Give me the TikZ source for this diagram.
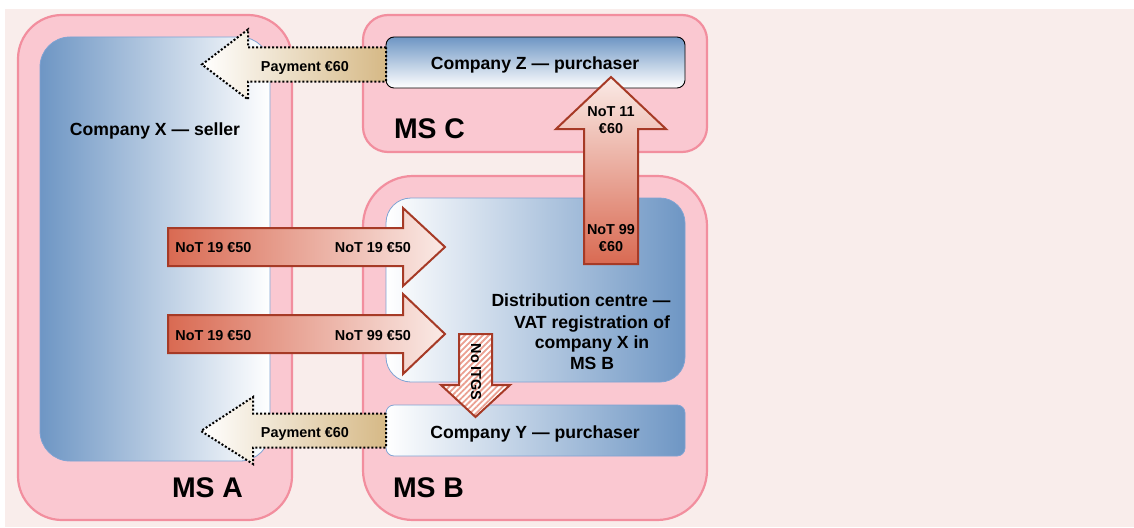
\documentclass[tikz,border=0pt]{standalone}
\usepackage{fontspec}
\setmainfont{Liberation Sans}
\usetikzlibrary{patterns.meta}
\definecolor{bgpink}{HTML}{F9EDEB}
\definecolor{mspink}{HTML}{FAC8D1}
\definecolor{msborder}{HTML}{F28E9E}
\definecolor{boxblue}{HTML}{6E96C4}
\definecolor{boxborder}{HTML}{7FA3D3}
\definecolor{arrred}{HTML}{D96A52}
\definecolor{arrlight}{HTML}{FAEAE6}
\definecolor{arrborder}{HTML}{A63A26}
\definecolor{paytan}{HTML}{D6B986}
\definecolor{hatchred}{HTML}{EBA091}
\begin{document}
\begin{tikzpicture}[x=1pt,y=-1pt,
  ms/.style={draw=msborder, fill=mspink, line width=2.2pt},
  inbox/.style={draw=boxborder, line width=0.8pt},
  notarrow/.style={draw=arrborder, line width=2pt, line join=miter},
  payarrow/.style={draw=black, line width=2pt, dash pattern=on 2pt off 2pt, left color=white, right color=paytan},
  lbl/.style={font=\bfseries\fontsize{14.4}{17.5}\selectfont, inner sep=0pt},
  big/.style={font=\bfseries\fontsize{17.6}{21}\selectfont, inner sep=0pt},
  huge/.style={font=\bfseries\fontsize{28.4}{32}\selectfont, inner sep=0pt},
]
\useasboundingbox (0,0) rectangle (1134,527);
\fill[white] (0,0) rectangle (1134,527);
\fill[bgpink] (5,9) rectangle (1134,527);

% member-state boxes
\path[ms, rounded corners=44pt] (18,15) rectangle (292,520);
\path[ms, rounded corners=25pt] (363,15) rectangle (707,152);
\path[ms, rounded corners=50pt] (363,176) rectangle (707,520);

% company boxes
\path[inbox, rounded corners=30pt, left color=boxblue, right color=white] (40,37) rectangle (270,461);
\path[draw=black, line width=0.9pt, rounded corners=8pt, top color=boxblue, bottom color=white] (386,37) rectangle (685,88);
\path[inbox, rounded corners=25pt, left color=white, right color=boxblue] (386,198) rectangle (685,382);
\path[inbox, rounded corners=8pt, left color=white, right color=boxblue] (386,405) rectangle (685,456);

% box labels
\node[big, anchor=base] (cx) at (155,135) {Company X — seller};
\node[big, anchor=base] (cz) at (535,70) {Company Z — purchaser};
\node[big, anchor=base] (cy) at (535,438) {Company Y — purchaser};
\node[big, anchor=base] (d1) at (581,306.5) {Distribution centre —};
\node[big, anchor=base] (d2) at (592,328) {VAT registration of};
\node[big, anchor=base] (d3) at (592,348.5) {company X in};
\node[big, anchor=base] (d4) at (592,369.5) {MS B};
\node[huge, anchor=base] (msa) at (207.5,497) {MS A};
\node[huge, anchor=base] (msc) at (429.5,138) {MS C};
\node[huge, anchor=base] (msb) at (428.5,497) {MS B};

% payment arrows
\path[payarrow] (386,47.5) -- (248,47.5) -- (248,29.5) -- (202,64.5) -- (248,99.5) -- (248,81.5) -- (386,81.5) -- cycle;
\path[payarrow] (386,413.5) -- (253,413.5) -- (253,397) -- (201,431) -- (253,464) -- (253,447.5) -- (386,447.5) -- cycle;
\node[lbl, anchor=base] (p1) at (305,71.5) {Payment €60};
\node[lbl, anchor=base] (p2) at (305,437) {Payment €60};

% NoT arrows
\path[notarrow, left color=arrred, right color=arrlight] (168,228) -- (403,228) -- (403,208) -- (445,247) -- (403,286) -- (403,266) -- (168,266) -- cycle;
\path[notarrow, left color=arrred, right color=arrlight] (168,315) -- (403,315) -- (403,294) -- (445,334) -- (403,374) -- (403,353) -- (168,353) -- cycle;
\node[lbl, anchor=base] (a1) at (213.5,252.5) {NoT 19 €50};
\node[lbl, anchor=base] (b1) at (373,252.5) {NoT 19 €50};
\node[lbl, anchor=base] (a2) at (213.5,340.5) {NoT 19 €50};
\node[lbl, anchor=base] (b2) at (373,340.5) {NoT 99 €50};

\path[notarrow, bottom color=arrred, top color=arrlight] (584,264) -- (584,129) -- (556,129) -- (611,77) -- (666,129) -- (638,129) -- (638,264) -- cycle;
\node[lbl, anchor=base] (t1) at (611,116) {NoT 11};
\node[lbl, anchor=base] (t2) at (611,133.5) {€60};
\node[lbl, anchor=base] (u1) at (611,234) {NoT 99};
\node[lbl, anchor=base] (u2) at (611,251.5) {€60};

% No ITGS arrow
\path[notarrow, preaction={fill=white}, pattern={Lines[angle=45,distance=4.2pt,line width=1.8pt]}, pattern color=hatchred] (459,334) -- (492,334) -- (492,385) -- (510,385) -- (475.5,417) -- (441,385) -- (459,385) -- cycle;
\node[lbl, rotate=-90] (itgs) at (476,372) {No ITGS};
\end{tikzpicture}
\end{document}
